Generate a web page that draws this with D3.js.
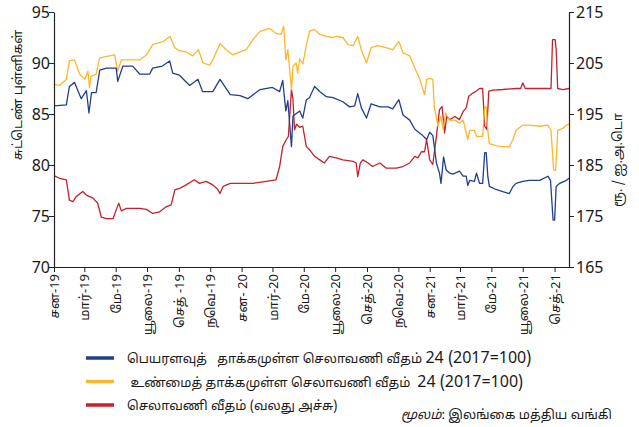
<!DOCTYPE html>
<html>
<head>
<meta charset="utf-8">
<script src="https://cdn.jsdelivr.net/npm/d3@7"></script>
<style>
  body { margin: 0; background: #fff; }
  svg text { font-family: "Noto Sans Tamil", "Lato", "DejaVu Sans", sans-serif; fill: #1a1a1a; }
</style>
</head>
<body>
<svg id="chart" width="639" height="427"></svg>
<script>
// tick labels (every two months)
var monthLabels = ["சன-19","மார்-19","மே-19","யூலை-19","செத் -19","நவெ-19","சன- 20","மார்-20","மே-20",
    "யூலை-20","செத்-20","நவெ-20","சன-21","மார்-21","மே-21","யூலை-21","செத்-21"];
var leftTicks = [70,75,80,85,90,95];
var rightTicks = [165,175,185,195,205,215];

// nominal effective exchange rate index (left axis)
var neer = [
 ["2019-01-01",85.8],["2019-01-25",85.9],["2019-01-31",87.7],["2019-02-10",88.1],["2019-02-23",86.5],
 ["2019-03-05",87.3],["2019-03-10",85.1],["2019-03-15",87.1],["2019-03-24",87.1],["2019-03-31",89.3],
 ["2019-04-13",89.5],["2019-05-02",89.5],["2019-05-05",88.2],["2019-05-15",89.7],["2019-06-03",89.7],
 ["2019-06-17",88.9],["2019-07-06",88.9],["2019-07-12",89.5],["2019-07-31",89.7],["2019-08-14",90.2],
 ["2019-08-20",89.0],["2019-09-02",88.8],["2019-09-22",87.8],["2019-10-08",88.4],["2019-10-17",87.2],
 ["2019-11-06",87.2],["2019-11-20",88.4],["2019-12-10",86.9],["2019-12-29",86.8],["2020-01-13",86.5],
 ["2020-02-06",87.4],["2020-03-01",87.6],["2020-03-15",87.2],["2020-03-21",88.3],["2020-03-27",85.3],
 ["2020-03-31",86.3],["2020-04-07",81.8],["2020-04-10",84.8],["2020-04-23",85.3],["2020-04-29",84.6],
 ["2020-05-06",86.4],["2020-05-12",86.6],["2020-05-22",87.7],["2020-06-01",87.2],["2020-06-14",86.7],
 ["2020-06-27",86.6],["2020-07-16",86.2],["2020-07-29",85.7],["2020-08-08",85.8],["2020-08-14",87.0],
 ["2020-08-21",85.6],["2020-08-31",84.6],["2020-09-09",86.0],["2020-09-26",85.7],["2020-10-12",85.7],
 ["2020-10-21",85.5],["2020-11-02",86.4],["2020-11-10",84.9],["2020-11-23",84.4],["2020-12-03",83.5],
 ["2020-12-16",83.0],["2020-12-26",82.5],["2021-01-01",83.2],["2021-01-07",82.9],["2021-01-10",81.8],
 ["2021-01-14",80.2],["2021-01-20",79.2],["2021-01-23",78.2],["2021-01-28",80.8],["2021-02-02",79.5],
 ["2021-02-09",79.2],["2021-02-15",79.1],["2021-02-28",79.4],["2021-03-07",78.9],["2021-03-13",78.9],
 ["2021-03-16",78.0],["2021-03-20",78.5],["2021-03-29",78.4],["2021-04-02",79.2],["2021-04-08",78.2],
 ["2021-04-14",78.2],["2021-04-18",81.2],["2021-04-21",81.2],["2021-04-24",78.9],["2021-04-27",77.9],
 ["2021-05-10",77.6],["2021-05-23",77.4],["2021-06-05",77.2],["2021-06-12",77.9],["2021-06-18",78.2],
 ["2021-07-01",78.4],["2021-07-14",78.5],["2021-08-03",78.5],["2021-08-19",78.9],["2021-08-24",78.5],
 ["2021-08-29",74.6],["2021-09-01",74.6],["2021-09-04",77.9],["2021-09-11",78.2],["2021-09-24",78.5],
 ["2021-09-29",78.7]
];

// real effective exchange rate index (left axis)
var reer = [
 ["2019-01-01",87.9],["2019-01-12",87.8],["2019-01-25",88.4],["2019-01-31",90.2],["2019-02-10",90.3],
 ["2019-02-20",88.9],["2019-03-02",88.4],["2019-03-08",89.2],["2019-03-11",87.6],["2019-03-14",88.7],
 ["2019-03-24",88.9],["2019-03-31",90.5],["2019-04-19",90.7],["2019-04-29",90.8],["2019-05-05",89.2],
 ["2019-05-12",90.3],["2019-05-28",90.3],["2019-06-17",90.3],["2019-06-30",90.8],["2019-07-12",91.8],
 ["2019-08-01",92.1],["2019-08-15",92.6],["2019-08-24",91.5],["2019-09-02",91.2],["2019-09-15",91.1],
 ["2019-09-28",90.7],["2019-10-09",91.3],["2019-10-18",90.0],["2019-10-31",89.8],["2019-11-06",90.3],
 ["2019-11-20",91.9],["2019-12-02",91.3],["2019-12-15",90.8],["2019-12-29",91.1],["2020-01-10",91.3],
 ["2020-01-23",92.3],["2020-02-06",93.1],["2020-02-24",93.4],["2020-03-08",92.9],["2020-03-18",92.8],
 ["2020-03-23",93.6],["2020-03-27",90.3],["2020-03-31",91.3],["2020-04-07",87.4],["2020-04-10",89.7],
 ["2020-04-16",90.0],["2020-04-19",89.0],["2020-04-23",90.4],["2020-04-29",89.9],["2020-05-06",91.7],
 ["2020-05-12",93.1],["2020-05-22",93.3],["2020-06-01",92.8],["2020-06-14",92.6],["2020-06-27",92.5],
 ["2020-07-03",92.6],["2020-07-16",92.5],["2020-07-26",91.8],["2020-08-05",91.7],["2020-08-14",92.6],
 ["2020-08-21",91.3],["2020-08-31",90.0],["2020-09-09",91.5],["2020-09-22",91.7],["2020-10-08",91.5],
 ["2020-10-21",91.3],["2020-11-02",92.1],["2020-11-10",91.0],["2020-11-23",90.7],["2020-12-03",89.5],
 ["2020-12-12",88.5],["2020-12-22",86.9],["2020-12-26",88.4],["2021-01-01",88.5],["2021-01-07",88.4],
 ["2021-01-10",85.7],["2021-01-17",83.8],["2021-01-23",84.8],["2021-01-27",83.5],["2021-02-01",85.1],
 ["2021-02-09",84.4],["2021-02-19",84.4],["2021-02-28",84.1],["2021-03-07",84.4],["2021-03-16",82.5],
 ["2021-03-20",83.4],["2021-03-29",83.4],["2021-04-02",82.8],["2021-04-14",82.8],["2021-04-18",85.7],
 ["2021-04-21",85.7],["2021-04-24",83.4],["2021-04-27",82.1],["2021-05-10",81.9],["2021-05-23",81.8],
 ["2021-06-05",81.8],["2021-06-12",82.5],["2021-06-18",83.4],["2021-07-01",83.9],["2021-07-14",83.9],
 ["2021-08-03",83.8],["2021-08-19",83.9],["2021-08-25",83.4],["2021-08-30",79.5],["2021-09-03",79.5],
 ["2021-09-07",83.4],["2021-09-17",83.6],["2021-09-24",83.9],["2021-09-29",84.0]
];

// LKR per USD (right axis)
var usdRate = [
 ["2019-01-01",182.9],["2019-01-12",182.4],["2019-01-25",182.1],["2019-01-31",178.1],["2019-02-07",177.8],
 ["2019-02-13",178.8],["2019-02-26",179.8],["2019-03-05",179.1],["2019-03-18",178.5],["2019-03-27",177.5],
 ["2019-04-03",174.8],["2019-04-13",174.5],["2019-04-26",174.5],["2019-05-02",176.2],["2019-05-07",177.5],
 ["2019-05-12",176.0],["2019-05-22",176.5],["2019-06-17",176.5],["2019-06-30",176.3],["2019-07-12",175.5],
 ["2019-07-25",175.8],["2019-08-07",176.8],["2019-08-17",177.2],["2019-08-24",180.1],["2019-09-02",180.4],
 ["2019-09-15",181.1],["2019-10-01",182.1],["2019-10-11",181.4],["2019-10-24",181.8],["2019-11-06",181.1],
 ["2019-11-15",180.3],["2019-11-20",179.4],["2019-11-26",180.8],["2019-12-10",181.4],["2019-12-29",181.4],
 ["2020-01-23",181.4],["2020-02-18",181.8],["2020-03-08",182.1],["2020-03-15",184.7],["2020-03-21",188.6],
 ["2020-03-28",190.0],["2020-04-01",190.6],["2020-04-07",199.8],["2020-04-10",197.8],["2020-04-13",191.9],
 ["2020-04-17",193.0],["2020-04-23",192.4],["2020-04-29",192.6],["2020-05-06",188.6],["2020-05-12",188.0],
 ["2020-05-22",186.7],["2020-06-01",186.0],["2020-06-10",185.4],["2020-06-20",186.7],["2020-07-03",186.4],
 ["2020-07-16",186.0],["2020-08-05",185.7],["2020-08-11",185.4],["2020-08-14",182.7],["2020-08-19",185.4],
 ["2020-08-24",186.0],["2020-09-03",185.4],["2020-09-12",184.7],["2020-09-26",185.4],["2020-10-08",184.4],
 ["2020-10-28",184.4],["2020-11-10",184.7],["2020-11-23",185.4],["2020-12-03",186.7],["2020-12-09",186.4],
 ["2020-12-16",187.6],["2020-12-22",187.6],["2020-12-26",190.0],["2021-01-01",186.0],["2021-01-07",185.1],
 ["2021-01-14",190.6],["2021-01-20",195.8],["2021-01-25",196.5],["2021-01-30",191.3],["2021-02-03",194.5],
 ["2021-02-09",193.9],["2021-02-19",194.5],["2021-02-28",193.9],["2021-03-07",195.5],["2021-03-13",196.2],
 ["2021-03-18",198.5],["2021-03-26",199.1],["2021-04-02",199.5],["2021-04-08",200.0],["2021-04-14",200.0],
 ["2021-04-18",192.6],["2021-04-22",192.0],["2021-04-26",199.5],["2021-05-04",199.7],["2021-05-23",199.8],
 ["2021-06-18",200.0],["2021-06-27",200.0],["2021-07-01",201.1],["2021-07-06",200.0],["2021-08-03",200.0],
 ["2021-08-25",200.0],["2021-08-28",209.6],["2021-09-02",209.6],["2021-09-04",207.7],["2021-09-07",200.0],
 ["2021-09-17",199.8],["2021-09-29",200.0]
];

var legendItems = [
    {tam:"பெயரளவுத்   தாக்கமுள்ள செலாவணி வீதம் ", num:"24 (2017=100)", color:"#233f8c"},
    {tam:" உண்மைத் தாக்கமுள்ள செலாவணி வீதம்  ", num:"24 (2017=100)", color:"#fdb72e"},
    {tam:"செலாவணி வீதம் (வலது அச்சு)", num:"", color:"#c3212f"}
];

var svg = d3.select("#chart");
var parse = d3.timeParse("%Y-%m-%d");
var plotLeft = 54, plotRight = 569, plotTop = 12, plotBottom = 267;

var x = d3.scaleTime()
    .domain([parse("2019-01-01"), parse("2021-09-29")])
    .range([plotLeft, plotRight]);
var yL = d3.scaleLinear().domain([70,95]).range([plotBottom, plotTop]);
var yR = d3.scaleLinear().domain([165,215]).range([plotBottom, plotTop]);

// series lines
function drawLine(data, yScale, color){
    var line = d3.line()
        .x(function(d){ return x(parse(d[0])); })
        .y(function(d){ return yScale(d[1]); });
    svg.append("path")
        .datum(data)
        .attr("d", line)
        .attr("fill","none")
        .attr("stroke", color)
        .attr("stroke-width", 1.3)
        .attr("stroke-linejoin","round");
}
drawLine(usdRate, yR, legendItems[2].color);
drawLine(reer, yL, legendItems[1].color);
drawLine(neer, yL, legendItems[0].color);

// axes
var tickDates = monthLabels.map(function(l, i){ return d3.timeMonth.offset(parse("2019-01-01"), i*2); });

var gx = svg.append("g")
    .attr("transform","translate(0,"+plotBottom+")")
    .call(d3.axisBottom(x).tickValues(tickDates).tickSize(5).tickSizeOuter(0)
        .tickFormat(function(d,i){ return monthLabels[i]; }));
gx.selectAll("text")
    .attr("transform","rotate(-90)")
    .attr("x",-7).attr("y",0).attr("dy","0.35em")
    .style("text-anchor","end")
    .style("font-size","13px");

var gl = svg.append("g")
    .attr("transform","translate("+plotLeft+",0)")
    .call(d3.axisLeft(yL).tickValues(leftTicks).tickSize(5).tickSizeOuter(0));
gl.selectAll("text").style("font-size","16px").attr("x",-4);

var gr = svg.append("g")
    .attr("transform","translate("+plotRight+",0)")
    .call(d3.axisRight(yR).tickValues(rightTicks).tickSize(5).tickSizeOuter(0));
gr.selectAll("text").style("font-size","16px").attr("x",7);

svg.selectAll(".domain").attr("stroke","#222").attr("stroke-width",1.2);
svg.selectAll(".tick line").attr("stroke","#222");

// axis titles
svg.append("text")
    .attr("transform","translate(22,95) rotate(-90)")
    .style("text-anchor","middle")
    .style("font-size","13px")
    .text("சுட்டெண் புள்ளிகள்");

svg.append("text")
    .attr("transform","translate(622,160) rotate(-90)")
    .style("text-anchor","middle")
    .style("font-size","13px")
    .style("white-space","pre")
    .text("ரூ. / ஐ.அ.டொ");

// legend
var lg = svg.append("g").attr("transform","translate(86,358)");
legendItems.forEach(function(it, i){
    var row = lg.append("g").attr("transform","translate(0,"+(i*23.5)+")");
    row.append("line")
        .attr("x1",0).attr("x2",28).attr("y1",0).attr("y2",0)
        .attr("stroke",it.color).attr("stroke-width",3.5);
    var t = row.append("text")
        .attr("x",41).attr("y",5)
        .style("white-space","pre")
        .style("font-size","13px");
    t.append("tspan").text(it.tam);
    if(it.num){
        t.append("tspan").style("font-size","16px").text(it.num);
    }
});

var src = svg.append("text")
    .attr("x",612).attr("y",419)
    .style("text-anchor","end")
    .style("font-size","13px");
src.append("tspan").style("font-style","italic").text("மூலம்");
src.append("tspan").text(": இலங்கை மத்திய வங்கி");
</script>
</body>
</html>
